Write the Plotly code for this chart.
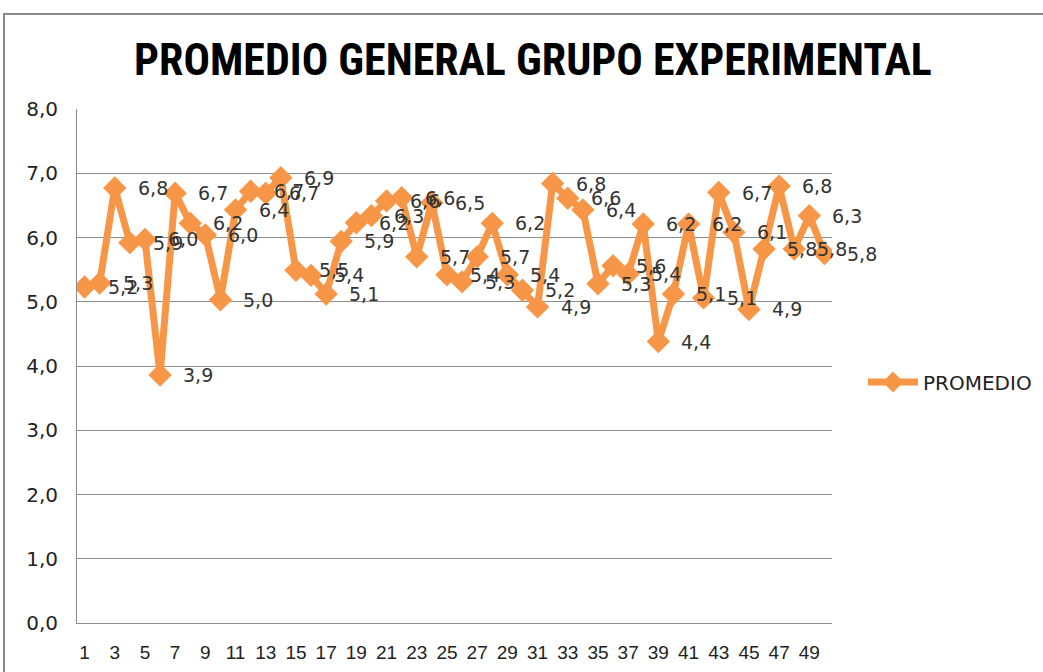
import plotly.graph_objects as go

# Data
students = list(range(1, 51))
promedio = [5.23, 5.29, 6.77, 5.92, 5.97, 3.86, 6.69, 6.22, 6.04, 5.03,
            6.43, 6.72, 6.69, 6.93, 5.49, 5.41, 5.12, 5.94, 6.23, 6.34,
            6.57, 6.62, 5.70, 6.54, 5.42, 5.31, 5.70, 6.22, 5.42, 5.18,
            4.92, 6.84, 6.61, 6.43, 5.28, 5.56, 5.43, 6.21, 4.38, 5.12,
            6.21, 5.06, 6.70, 6.08, 4.88, 5.82, 6.80, 5.82, 6.34, 5.75]
x_ticks = list(range(1, 50, 2))
y_ticks = [0, 1, 2, 3, 4, 5, 6, 7, 8]
series_name = "PROMEDIO"
title_text = "PROMEDIO GENERAL GRUPO EXPERIMENTAL"

ORANGE = "#F79646"
GRID = "#8c8c8c"
W, H = 1043, 672
L, R, T, B = 77, 211, 109, 49
pw, ph = W - L - R, H - T - B

fig = go.Figure()
fig.add_trace(go.Scatter(
    x=students, y=promedio, name=series_name, mode="lines+markers",
    line=dict(color=ORANGE, width=7),
    marker=dict(symbol="diamond", size=18, color=ORANGE),
    showlegend=True,
))

annotations = []
for xv, yv in zip(students, promedio):
    annotations.append(dict(
        x=xv, y=yv, xref="x", yref="y",
        text=f"{yv:.1f}".replace(".", ","),
        showarrow=False, xanchor="left", yanchor="middle",
        xshift=21, font=dict(family="DejaVu Sans", size=19, color="#333333"),
    ))

fig.update_layout(
    width=W, height=H,
    margin=dict(l=L, r=R, t=T, b=B, autoexpand=False),
    paper_bgcolor="white", plot_bgcolor="white",
    separators=",.",
    title=dict(
        text=f"<b>{title_text}</b>",
        x=533 / W, xanchor="center", xref="container",
        y=1 - 60 / H, yanchor="middle",
        font=dict(family="Liberation Sans Narrow, Arial Narrow, Roboto Condensed, sans-serif",
                  size=44, color="black"),
    ),
    xaxis=dict(
        range=[0.5, 50.5], tickmode="array", tickvals=x_ticks,
        ticktext=[str(v) for v in x_ticks],
        showgrid=False, zeroline=False, automargin=False,
        showline=True, linecolor=GRID, linewidth=1,
        ticks="outside", ticklen=12, tickcolor="rgba(0,0,0,0)",
        tickfont=dict(family="Liberation Sans Narrow, Arial Narrow, sans-serif",
                      size=19, color="#222222"),
    ),
    yaxis=dict(
        range=[0, 8], tickmode="array", tickvals=y_ticks,
        tickformat=".1f", automargin=False,
        showgrid=True, gridcolor=GRID, gridwidth=1, zeroline=False,
        showline=True, linecolor=GRID, linewidth=1,
        ticks="outside", ticklen=14, tickcolor="rgba(0,0,0,0)",
        tickfont=dict(family="DejaVu Sans", size=20, color="#222222"),
    ),
    legend=dict(
        xref="container", yref="container",
        x=863 / W, xanchor="left",
        y=1 - 382 / H, yanchor="middle",
        font=dict(family="DejaVu Sans", size=20, color="#222222"),
        bgcolor="rgba(0,0,0,0)", itemwidth=50,
    ),
    annotations=annotations,
    shapes=[dict(
        type="rect", xref="paper", yref="paper",
        x0=(4 - L) / pw, x1=(W + 20 - L) / pw,
        y0=(623 - (H + 20)) / ph, y1=(623 - 14) / ph,
        line=dict(color="#8a8a8a", width=2), fillcolor="rgba(0,0,0,0)",
        layer="below",
    )],
)

fig.write_html("out.html", config={"displayModeBar": False},
               post_script="document.body.style.margin='0';document.body.style.overflow='hidden';")
